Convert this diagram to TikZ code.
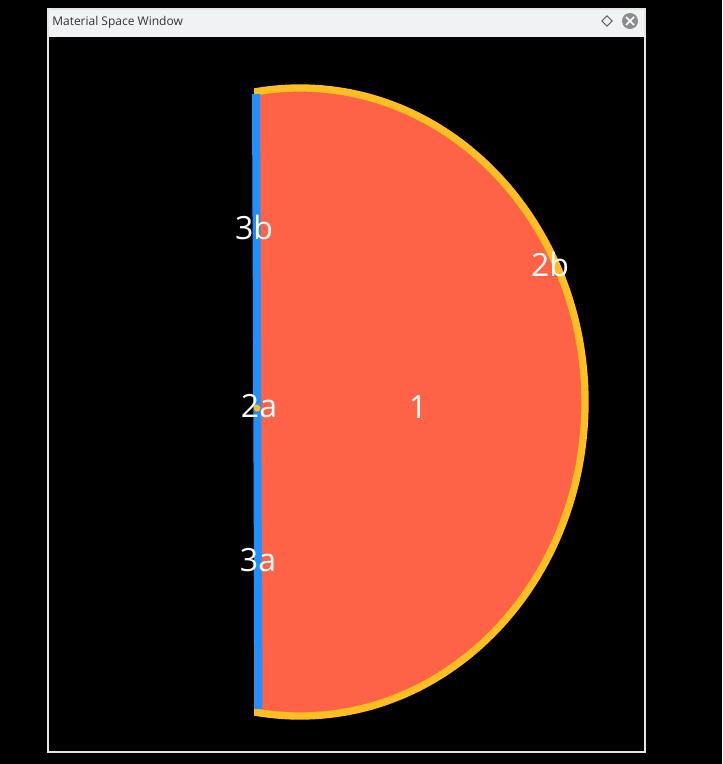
\documentclass[tikz,border=0pt]{standalone}
\usepackage{fontspec}
\setmainfont{Open Sans}
\usepackage{tikz}
\usetikzlibrary{shapes.geometric, positioning, calc}

\definecolor{regionred}{HTML}{FF6347}
\definecolor{rimorange}{HTML}{FFBF23}
\definecolor{axisblue}{HTML}{1E90FF}
\definecolor{titlebg}{HTML}{F1F2F4}

\begin{document}
\begin{tikzpicture}[
    x=0.75pt, y=-0.75pt,
    regionlabel/.style={text=white, font=\fontsize{24}{28}\selectfont, inner sep=0pt},
    titletext/.style={text=black!80, font=\fontsize{9}{11}\selectfont, inner sep=0pt, anchor=west}
]
\useasboundingbox (0,0) rectangle (722,764);
\fill[black] (0,0) rectangle (722,764);

% Window
\fill[titlebg] (47,8) rectangle (645,37);
\draw[white!90!black, line width=1.5] (47.5,8.5) rectangle (644.5,751.5);
\node (title) [titletext] at (52,22) {Material Space Window};
\node (pin) [draw=black!60, line width=0.8, diamond, minimum size=8, inner sep=0pt, shape aspect=1] at (607,21) {};
\node (close) [circle, fill=black!45, minimum size=16*0.75pt, inner sep=0pt] at (630,21) {};
\draw[white, line width=1.3] ($(close)+(-4,-4)$) -- ($(close)+(4,4)$);
\draw[white, line width=1.3] ($(close)+(-4,4)$) -- ($(close)+(4,-4)$);

% Regions
\begin{scope}
\clip (254,0) rectangle (700,764);
\fill[regionred] (300,402) ellipse [x radius=285, y radius=314];
\draw[rimorange, line width=5.5] (300,402) ellipse [x radius=285, y radius=314];
\end{scope}
\draw[axisblue, line width=6] (256,94) -- (258.5,709);
\fill[rimorange] (257,408) circle [radius=3.5];

% Labels
\node (l3b) [regionlabel] at (254,227) {3b};
\node (l2b) [regionlabel] at (550,264) {2b};
\node (l2a) [regionlabel] at (259,406) {2a};
\node (l1) [regionlabel] at (418,407) {1};
\node (l3a) [regionlabel] at (258,560) {3a};

\end{tikzpicture}
\end{document}
